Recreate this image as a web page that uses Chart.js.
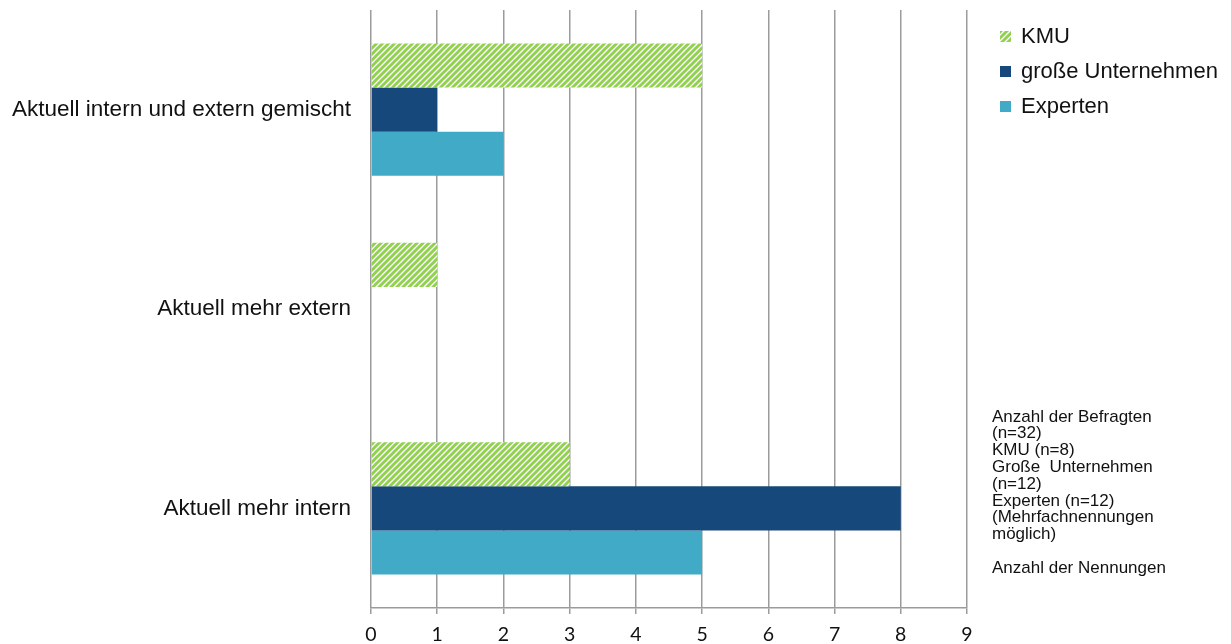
<!DOCTYPE html>
<html lang="de">
<head>
<meta charset="utf-8">
<script src="https://cdn.jsdelivr.net/npm/chart.js@4/dist/chart.umd.min.js"></script>
<style>
  html, body { margin: 0; padding: 0; background: #fff; }
  #wrap { width: 1231px; height: 644px; position: relative; }
</style>
</head>
<body>
<div id="wrap"><canvas id="chart" width="1231" height="644"></canvas></div>
<script>
const categories = ["Aktuell intern und extern gemischt", "Aktuell mehr extern", "Aktuell mehr intern"];
const seriesNames = ["KMU", "große Unternehmen", "Experten"];
const kmu = [5, 1, 3];
const grosseUnternehmen = [1, 0, 8];
const experten = [2, 0, 5];
const xTicks = [0, 1, 2, 3, 4, 5, 6, 7, 8, 9];
const noteLines = [
  "Anzahl der Befragten",
  "(n=32)",
  "KMU (n=8)",
  "Große  Unternehmen",
  "(n=12)",
  "Experten (n=12)",
  "(Mehrfachnennungen",
  "möglich)",
  "",
  "Anzahl der Nennungen"
];

const GREEN = "#92d050";
const NAVY = "#17487b";
const TEAL = "#41abc7";

// diagonal stripe fill for the KMU bars
function stripePattern() {
  const s = 6;
  const c = document.createElement("canvas");
  c.width = s; c.height = s;
  const g = c.getContext("2d");
  g.fillStyle = "#fff";
  g.fillRect(0, 0, s, s);
  g.strokeStyle = GREEN;
  g.lineWidth = 3;
  g.beginPath();
  g.moveTo(-1, s + 1); g.lineTo(s + 1, -1);
  g.moveTo(-2, 2); g.lineTo(2, -2);
  g.moveTo(s - 2, s + 2); g.lineTo(s + 2, s - 2);
  g.stroke();
  return g.createPattern(c, "repeat");
}
const hatch = stripePattern();

// legend and notes on the right
const sidePanel = {
  id: "sidePanel",
  afterDraw(chart) {
    const ctx = chart.ctx;
    ctx.save();
    const fills = [hatch, NAVY, TEAL];
    ctx.font = "22px 'Liberation Sans', Arial, sans-serif";
    ctx.textBaseline = "middle";
    seriesNames.forEach((name, i) => {
      const y = 36 + i * 35;
      ctx.fillStyle = fills[i];
      ctx.fillRect(1000, y - 5, 11, 11);
      ctx.fillStyle = "#111";
      ctx.fillText(name, 1021, y + 1);
    });
    ctx.font = "17px 'Liberation Sans', Arial, sans-serif";
    noteLines.forEach((line, i) => {
      ctx.fillText(line, 992, 417 + i * 16.8);
    });
    ctx.restore();
  }
};

new Chart(document.getElementById("chart"), {
  type: "bar",
  data: {
    labels: categories,
    datasets: [
      { label: seriesNames[0], data: kmu, backgroundColor: hatch },
      { label: seriesNames[1], data: grosseUnternehmen, backgroundColor: NAVY },
      { label: seriesNames[2], data: experten, backgroundColor: TEAL }
    ]
  },
  options: {
    indexAxis: "y",
    responsive: false,
    animation: false,
    categoryPercentage: 0.664,
    barPercentage: 1,
    layout: { padding: { top: 10, right: 264, left: 0, bottom: 0 } },
    plugins: {
      legend: { display: false },
      tooltip: { enabled: false }
    },
    scales: {
      x: {
        min: 0,
        max: 9,
        afterBuildTicks: (scale) => { scale.ticks = xTicks.map(v => ({ value: v })); },
        afterFit: (scale) => { scale.height = 36; scale.paddingLeft = 0; scale.paddingRight = 0; },
        grid: {
          color: "#9b9b9b",
          lineWidth: 1.5,
          drawTicks: true,
          tickLength: 6,
          tickColor: "#9b9b9b"
        },
        border: { color: "#9b9b9b", width: 1.5 },
        ticks: {
          padding: 9,
          color: "#111",
          font: { family: "Lato, 'Liberation Sans', sans-serif", size: 19.5 }
        }
      },
      y: {
        afterFit: (scale) => { scale.width = 371; scale.paddingTop = 0; scale.paddingBottom = 0; },
        grid: { display: false },
        border: { display: false },
        ticks: {
          padding: 12,
          color: "#111",
          font: { family: "'Liberation Sans', Arial, sans-serif", size: 22.5 }
        }
      }
    }
  },
  plugins: [sidePanel]
});
</script>
</body>
</html>
